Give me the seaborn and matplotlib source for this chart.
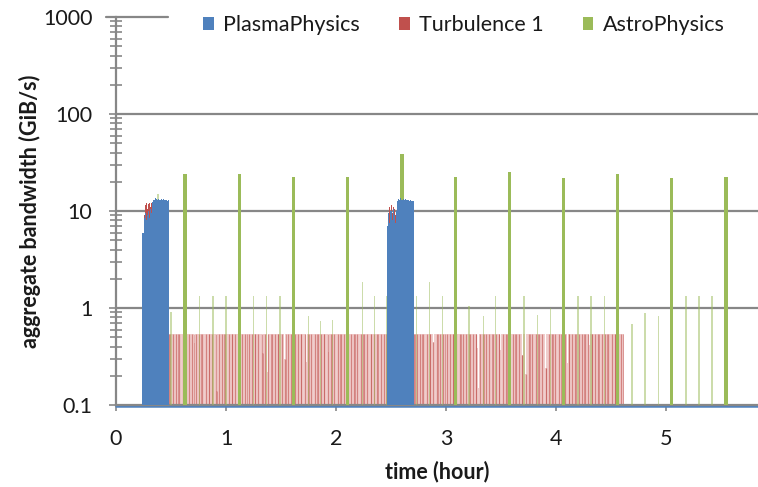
import numpy as np
import matplotlib
matplotlib.use("Agg")
import matplotlib.pyplot as plt
import seaborn as sns
from matplotlib.patches import Patch
from matplotlib.ticker import FixedLocator, NullFormatter

# ---------------- data ----------------
series_names = ["PlasmaPhysics", "Turbulence 1", "AstroPhysics"]
x_ticks = [0, 1, 2, 3, 4, 5]
y_ticks = [0.1, 1, 10, 100, 1000]
y_tick_labels = ["0.1", "1", "10", "100", "1000"]

step = 0.01  # sampling step (hour)

# PlasmaPhysics bursts (GiB/s), sampled every `step` hours from the start time
plasma_burst1_start = 0.24
plasma_burst1 = [6.0, 8.5, 9.5, 8.0, 9.0, 10.0, 8.5, 10.5, 9.5, 12.5, 13.0, 13.5,
                 13.2, 13.0, 13.4, 13.1, 13.0, 13.3, 12.9, 13.2, 13.0, 13.1, 12.8, 12.9]
plasma_burst2_start = 2.465
plasma_burst2 = [7.0, 9.5, 7.5, 10.0, 8.0, 10.5, 9.0, 7.5, 10.0, 12.8, 13.2, 13.0,
                 13.5, 13.1, 13.3, 13.0, 13.2, 12.9, 13.1, 13.0, 12.8, 12.9, 12.7, 12.8]
plasma_idle = 0.1

# Turbulence 1 inside the bursts
turb_in_burst1_start = 0.25
turb_in_burst1 = [9.0, 11.5, 12.0, 10.5, 11.8, 12.0, 11.0, 12.2]
turb_in_burst2_start = 2.47
turb_in_burst2 = [8.0, 11.0, 10.0, 11.5, 9.5, 11.0, 10.5, 9.0, 11.0]

# Turbulence 1 steady phases: (start, end, level) and lower samples
turb_phases_start = [0.48, 2.70]
turb_phases_end = [2.46, 4.61]
turb_level = 0.54
turb_dip_times = [0.71, 0.91, 1.33, 1.37, 1.53, 1.73, 1.93, 2.88, 3.28, 3.29,
                  3.49, 3.69, 3.72, 3.90, 4.10, 4.30]
turb_dip_values = [0.44, 0.14, 0.34, 0.22, 0.30, 0.28, 0.35, 0.45, 0.39, 0.15,
                   0.37, 0.33, 0.21, 0.24, 0.27, 0.42]

# AstroPhysics large checkpoints
astro_big_t = [0.627, 1.124, 1.612, 2.103, 2.60, 3.088, 3.578, 4.07, 4.56, 5.05, 5.545]
astro_big_v = [24.3, 24.3, 22.4, 22.4, 39.0, 22.5, 25.4, 21.9, 24.3, 21.7, 22.5]

# AstroPhysics small writes
astro_small_t = [0.38, 0.50, 0.76, 0.88, 1.00, 1.25, 1.37, 1.49, 1.75, 1.86, 1.97,
                 2.24, 2.35, 2.46, 2.73, 2.85, 2.97, 3.21, 3.34, 3.45, 3.71, 3.83,
                 3.95, 4.20, 4.32, 4.44, 4.69, 4.81, 4.93, 5.18, 5.30, 5.42]
astro_small_v = [15.0, 0.9, 1.33, 1.33, 1.33, 1.33, 1.33, 1.33, 0.83, 0.73, 0.75,
                 1.85, 1.33, 1.33, 1.33, 1.85, 1.33, 1.05, 0.83, 1.33, 1.33, 0.85,
                 1.0, 1.33, 1.33, 1.33, 0.69, 0.88, 0.83, 1.33, 1.33, 1.33]

# ---------------- style ----------------
sns.set_theme(style="white")
plt.rcParams["font.family"] = ["Lato", "DejaVu Sans"]
blue, red, green = "#4F81BD", "#C0504D", "#9BBB59"
pink = "#F0CDCC"
grey = "#878787"
txt = "#1a1a1a"
FS = 15.5

fig = plt.figure(figsize=(7.58, 4.87), dpi=100)
x0, x1, ytop, ybot = 116, 758, 17, 405
W, H = 758, 487
ax = fig.add_axes([x0 / W, 1 - ybot / H, (x1 - x0) / W, (ybot - ytop) / H])
ax.set_yscale("log")
xmax = (x1 - x0) / 110.0
ax.set_xlim(0, xmax)
ax.set_ylim(0.1, 1000)

base = 0.1

# grid lines
for g in [1, 10, 100]:
    ax.axhline(g, color=grey, lw=1.6, zorder=1)
ax.plot([-0.09, 0.47], [1000, 1000], color=grey, lw=1.6, zorder=1, clip_on=False)

# ---- Turbulence 1 ----
for s, e in zip(turb_phases_start, turb_phases_end):
    n = int(round((e - s) / step)) + 1
    t = s + step * np.arange(n)
    v = np.full(n, turb_level)
    for dt, dv in zip(turb_dip_times, turb_dip_values):
        idx = np.argmin(np.abs(t - dt))
        if abs(t[idx] - dt) < step:
            v[idx] = dv
    ax.bar(t, v - base, bottom=base, width=step, color=pink, linewidth=0,
           align="edge", zorder=2)
    ax.vlines(t[::3] + step / 2, base, v[::3], color=red, lw=0.9, alpha=0.6, zorder=2.1)
    ax.vlines(t[1::7] + step / 2, base, v[1::7], color=red, lw=0.7, alpha=0.45, zorder=2.1)

for s, vals in [(turb_in_burst1_start, turb_in_burst1), (turb_in_burst2_start, turb_in_burst2)]:
    t = s + step * np.arange(len(vals))
    ax.bar(t, np.array(vals) - base, bottom=base, width=step, color=red,
           linewidth=0, align="edge", zorder=2)

# ---- AstroPhysics ----
ax.bar(astro_small_t, np.array(astro_small_v) - base, bottom=base, width=0.013,
       color=green, alpha=0.5, linewidth=0, zorder=3)
ax.bar(astro_big_t, np.array(astro_big_v) - base, bottom=base, width=0.032,
       color=green, linewidth=0, zorder=3.1)

# ---- PlasmaPhysics ----
for s, vals in [(plasma_burst1_start, plasma_burst1), (plasma_burst2_start, plasma_burst2)]:
    t = s + step * np.arange(len(vals))
    ax.bar(t, np.array(vals) - base, bottom=base, width=step, color=blue,
           linewidth=0, align="edge", zorder=4)
sns.lineplot(x=[0, xmax], y=[plasma_idle * 0.985, plasma_idle * 0.985], ax=ax,
             color=blue, lw=1.8, zorder=1.5, clip_on=False, legend=False)

# ---- axes styling ----
for side in ["top", "right"]:
    ax.spines[side].set_visible(False)
for side in ["left", "bottom"]:
    ax.spines[side].set_color(grey)
    ax.spines[side].set_linewidth(1.6)
    ax.spines[side].set_zorder(2.5)

ax.yaxis.set_major_locator(FixedLocator(y_ticks))
ax.set_yticklabels(y_tick_labels)
minors = [m * d for d in [0.1, 1, 10, 100] for m in range(2, 10)]
ax.yaxis.set_minor_locator(FixedLocator(minors))
ax.yaxis.set_minor_formatter(NullFormatter())
ax.tick_params(axis="y", which="major", direction="inout", length=10, width=1.2,
               color=grey, labelsize=FS, labelcolor=txt, pad=12, left=True)
ax.tick_params(axis="y", which="minor", direction="inout", length=8, width=1.2,
               color=grey, left=True)

ax.set_xticks(x_ticks)
ax.set_xticklabels([str(v) for v in x_ticks])
ax.tick_params(axis="x", which="major", direction="out", length=4.5, width=1.2,
               color=grey, labelsize=FS, labelcolor=txt, pad=13, bottom=True)

ax.set_xlabel("time (hour)", fontsize=FS, fontweight="bold", color=txt, labelpad=8)
ax.set_ylabel("aggregate bandwidth (GiB/s)", fontsize=FS, fontweight="bold",
              color=txt, labelpad=1)
ax.grid(False)

handles = [Patch(facecolor=c, edgecolor="none") for c in [blue, red, green]]
leg = ax.legend(handles, series_names, loc="center", bbox_to_anchor=(0.542, 0.979),
                ncol=3, frameon=False, fontsize=FS, handlelength=0.5,
                handleheight=0.5, handletextpad=0.45, columnspacing=1.8,
                borderaxespad=0)
for tx in leg.get_texts():
    tx.set_color(txt)

fig.savefig("out.png", dpi=100)
